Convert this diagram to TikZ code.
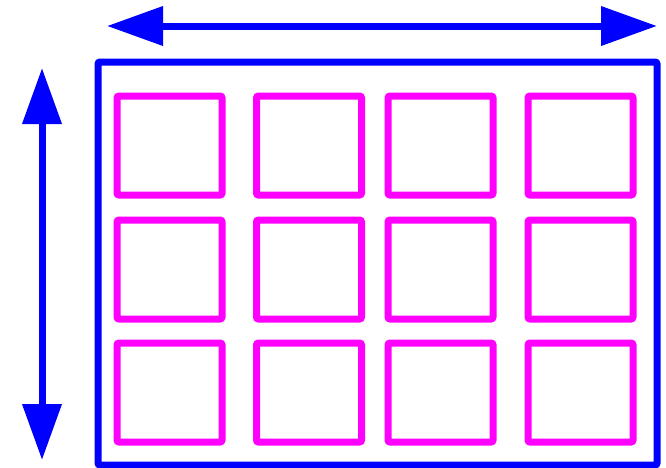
\documentclass[tikz,border=0pt]{standalone}
\usetikzlibrary{arrows.meta}
\definecolor{pureblue}{RGB}{0,0,255}
\definecolor{puremag}{RGB}{255,0,255}
\begin{document}
\begin{tikzpicture}[x=1pt,y=-1pt,
  cell/.style={draw=puremag,line width=7pt,rounded corners=2pt,minimum width=105pt,minimum height=99pt,inner sep=0pt,outer sep=0pt},
  frame/.style={draw=pureblue,line width=7pt,rounded corners=2pt,minimum width=559pt,minimum height=403pt,inner sep=0pt,outer sep=0pt},
  dimarrow/.style={draw=pureblue,line width=7pt,{Triangle[length=56pt,width=38pt]}-{Triangle[length=56pt,width=38pt]}}]
\useasboundingbox (0,0) rectangle (666,467);
\node[frame] (box) at (377.5,263.5) {};
\foreach \c/\x in {1/169.5,2/309,3/440.5,4/580.5}{
  \foreach \r/\y in {1/145.5,2/269.5,3/392.5}{
    \node[cell] (cell\r\c) at (\x,\y) {};
  }
}
\coordinate (hl) at (107,26);
\coordinate (hr) at (657,26);
\coordinate (vt) at (42,68);
\coordinate (vb) at (42,460);
\draw[dimarrow] (hl) -- (hr);
\draw[dimarrow] (vt) -- (vb);
\end{tikzpicture}
\end{document}
